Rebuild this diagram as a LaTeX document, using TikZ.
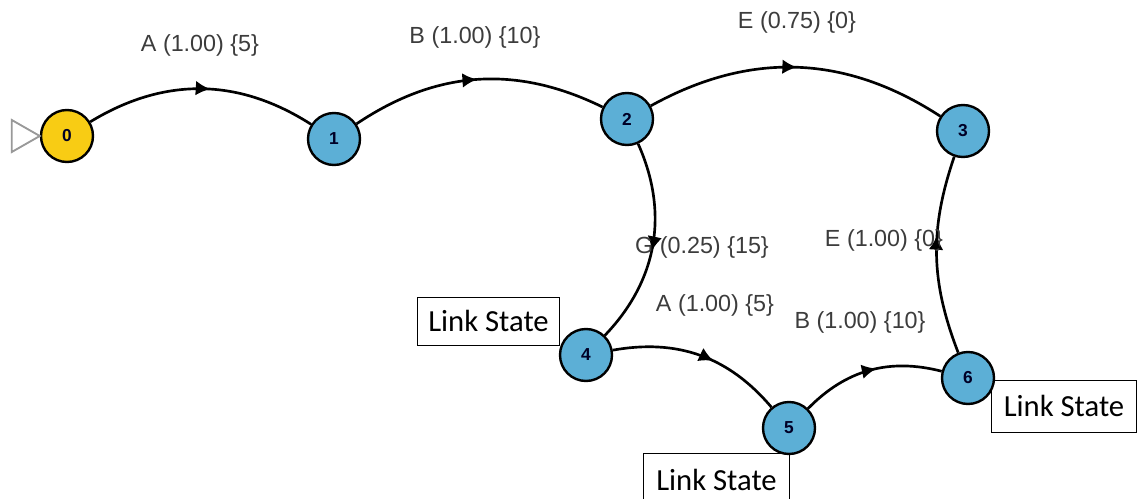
\documentclass[tikz,border=0pt]{standalone}
\usepackage{fontspec}
\setmainfont{Liberation Sans}
\newfontfamily\boxfont{Carlito}
\usetikzlibrary{arrows.meta,decorations.markings}
\definecolor{nodeblue}{RGB}{92,175,214}
\definecolor{nodeyellow}{RGB}{248,204,20}
\definecolor{labelgray}{RGB}{60,60,60}
\tikzset{
  state/.style={circle,draw=black,line width=1.8pt,minimum size=39pt,inner sep=0pt,fill=nodeblue,
    font=\fontsize{13}{13}\selectfont\bfseries,text=black!85!blue},
  startstate/.style={state,fill=nodeyellow},
  edge/.style={line width=2pt,draw=black,postaction={decorate},
    decoration={markings,mark=at position #1 with {\arrow{Latex[length=11pt,width=11pt]}}}},
  edge/.default=0.5,
  elabel/.style={font=\fontsize{17.5}{17.5}\selectfont,text=labelgray,inner sep=0pt},
  lsbox/.style={draw=black,line width=0.6pt,fill=white,inner sep=0pt,
    font=\boxfont\fontsize{23}{23}\selectfont,text=black},
}
\begin{document}
\begin{tikzpicture}[x=0.75pt,y=-0.75pt]
\useasboundingbox (0,0) rectangle (1138,499);
% Link State boxes
\node[lsbox,minimum width=107pt,minimum height=36pt] (ls4) at (488.5,321) {Link State};
\node[lsbox,minimum width=109pt,minimum height=39pt] (ls6) at (1064,406) {Link State};
\node[lsbox,minimum width=110pt,minimum height=40pt] (ls5) at (716.5,480) {Link State};
% states
\node[startstate] (s0) at (67,136) {0};
\node[state] (s1) at (334,139) {1};
\node[state] (s2) at (627,119) {2};
\node[state] (s3) at (963,131) {3};
\node[state] (s4) at (586,355) {4};
\node[state] (s5) at (789,428) {5};
\node[state] (s6) at (968,378) {6};
% initial marker
\coordinate (initTip) at (s0.west);
\draw[draw=gray!80,line width=1.4pt,line join=miter] ([xshift=-21pt,yshift=12pt]initTip) -- (initTip) -- ([xshift=-21pt,yshift=-12pt]initTip) -- cycle;
% edges
\draw[edge=0.54] (s0) to[bend left=32] (s1);
\draw[edge] (s1) to[bend left=30] (s2);
\draw[edge] (s2) to[bend left=31] (s3);
\draw[edge=0.53] (s2) to[bend left=34] (s4);
\draw[edge=0.6] (s6) to[bend left=20] (s3);
\draw[edge=0.58] (s4) to[bend left=30] (s5);
\draw[edge=0.55] (s5) to[bend left=30] (s6);
% labels
\node[elabel] (l01) at (200,45) {A (1.00) \{5\}};
\node[elabel] (l12) at (475,37) {B (1.00) \{10\}};
\node[elabel] (l23) at (797,22) {E (0.75) \{0\}};
\node[elabel] (l24) at (702,247) {G (0.25) \{15\}};
\node[elabel] (l63) at (884,240) {E (1.00) \{0\}};
\node[elabel] (l45) at (715,305) {A (1.00) \{5\}};
\node[elabel] (l56) at (860,322) {B (1.00) \{10\}};
% redraw arrowheads on top of overlapping labels
\draw[edge=0.53,draw opacity=0] (s2) to[bend left=34] (s4);
\draw[edge=0.6,draw opacity=0] (s6) to[bend left=20] (s3);
\end{tikzpicture}
\end{document}
